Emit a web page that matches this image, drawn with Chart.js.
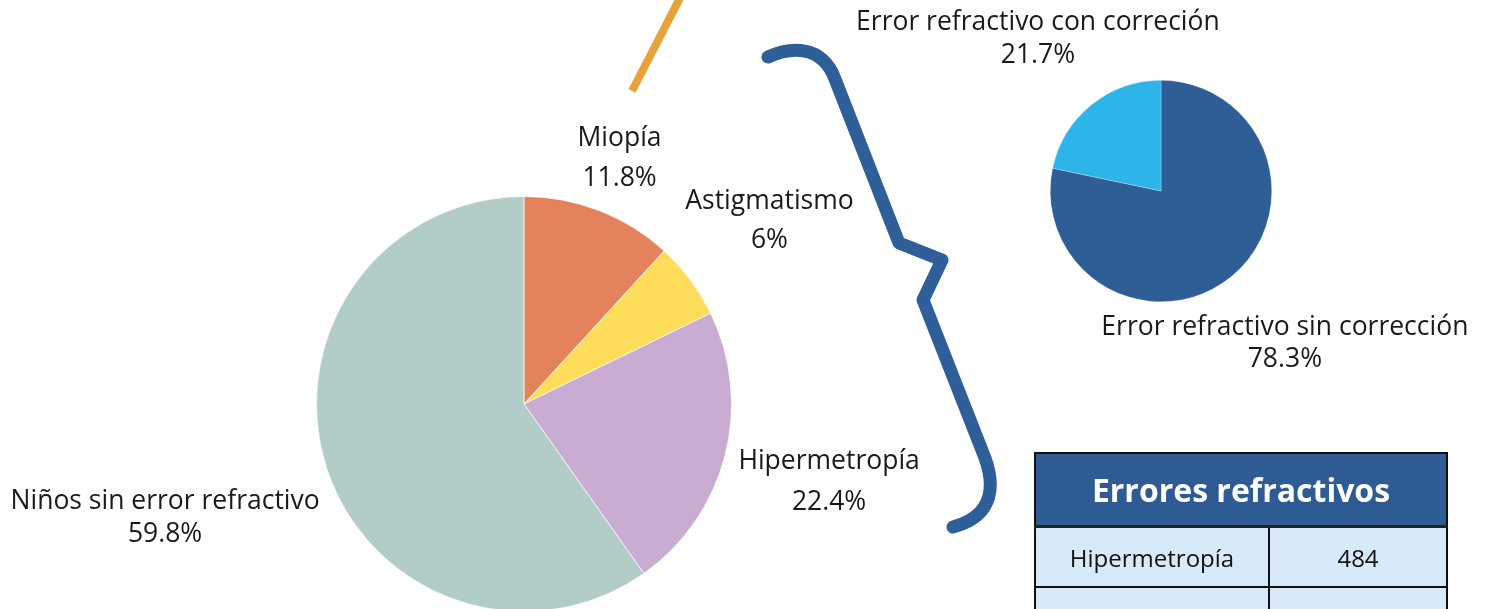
<!DOCTYPE html>
<html>
<head>
<meta charset="utf-8">
<script src="https://cdn.jsdelivr.net/npm/chart.js"></script>
<style>
  html, body { margin: 0; padding: 0; background: #ffffff; overflow: hidden; }
  #lienzo { position: relative; width: 1486px; height: 609px; overflow: hidden; font-family: "Open Sans", sans-serif; }
  canvas, svg { position: absolute; left: 0; top: 0; }
  #tabla { position: absolute; left: 1034px; top: 452px; width: 414px; border-collapse: collapse; }
  #tabla th { background: #2E5B94; color: #ffffff; font-size: 32px; font-weight: bold; height: 71px; border: 2px solid #111111; border-bottom: 3px solid #222222; padding: 0; }
  #tabla td { background: #D6EAFA; color: #111111; font-size: 24px; text-align: center; height: 58px; border: 2px solid #111111; padding: 0; }
</style>
</head>
<body>
<div id="lienzo">
  <svg width="1486" height="609">
    <path d="M 681 -4 L 632 91" stroke="#E8A23A" stroke-width="8" fill="none"/>
    <path d="M 768 57 C 790 47, 822 44, 835 79 L 899 243 L 942 260 L 923 300 L 985 458 C 993 480, 998 515, 953 527"
          stroke="#2F5F98" stroke-width="13" fill="none" stroke-linecap="round" stroke-linejoin="round"/>
  </svg>
  <canvas id="PastelPrincipal" width="1486" height="620"></canvas>
  <canvas id="PastelCorreccion" width="1486" height="620"></canvas>
  <table id="tabla">
    <thead><tr><th colspan="2" id="tituloTabla"></th></tr></thead>
    <tbody id="cuerpoTabla"></tbody>
  </table>
</div>

<script>
// Datos del pastel principal
var categorias = ['Miopía', 'Astigmatismo', 'Hipermetropía', 'Niños sin error refractivo'];
var porcentajes = [11.8, 6, 22.4, 59.8];

// Datos del pastel de corrección
var categoriasCorreccion = ['Error refractivo sin corrección', 'Error refractivo con correción'];
var porcentajesCorreccion = [78.3, 21.7];

// Tabla
var tituloTabla = 'Errores refractivos';
var filasTabla = ['Hipermetropía', ''];
var valoresTabla = [484, ''];

// Etiquetas fuera del pastel, sobre la bisectriz de cada sector
var etiquetasFuera = {
    id: 'etiquetasFuera',
    afterDraw: function(chart, args, opts) {
        var ctx = chart.ctx;
        var meta = chart.getDatasetMeta(0);
        var valores = chart.data.datasets[0].data;
        ctx.save();
        ctx.font = opts.size + 'px "Open Sans", sans-serif';
        ctx.fillStyle = '#1a1a1a';
        ctx.textAlign = 'center';
        ctx.textBaseline = 'middle';
        meta.data.forEach(function(arco, i) {
            var p = arco.getProps(['x', 'y', 'startAngle', 'endAngle', 'outerRadius'], true);
            var medio = (p.startAngle + p.endAngle) / 2;
            var d = p.outerRadius * opts.distancia[i];
            var x = p.x + Math.cos(medio) * d;
            var y = p.y + Math.sin(medio) * d;
            var salto = opts.salto[i];
            ctx.fillText(chart.data.labels[i], x, y - salto / 2);
            ctx.fillText(valores[i] + '%', x, y + salto / 2);
        });
        ctx.restore();
    }
};

var ctx = document.getElementById('PastelPrincipal').getContext('2d');
var pastel = new Chart(ctx, {
    type: 'pie',
    data: {
        labels: categorias,
        datasets: [{
            data: porcentajes,
            backgroundColor: ['#E3825B', '#FEDD5A', '#C8ACD1', '#B2CCC8'],
            borderColor: 'rgba(255,255,255,0.7)',
            borderWidth: 1
        }]
    },
    options: {
        responsive: false,
        animation: false,
        layout: { padding: { left: 316, top: 196, right: 754, bottom: 8 } },
        plugins: {
            legend: { display: false },
            tooltip: { enabled: false },
            etiquetasFuera: { size: 26.5, distancia: [1.271, 1.476, 1.518, 1.815], salto: [40, 39, 41, 33] }
        }
    },
    plugins: [etiquetasFuera]
});

var ctx2 = document.getElementById('PastelCorreccion').getContext('2d');
var pastel2 = new Chart(ctx2, {
    type: 'pie',
    data: {
        labels: categoriasCorreccion,
        datasets: [{
            data: porcentajesCorreccion,
            backgroundColor: ['#2E5E95', '#2DB5EA'],
            borderColor: 'rgba(255,255,255,0.5)',
            borderWidth: 0.5
        }]
    },
    options: {
        responsive: false,
        animation: false,
        layout: { padding: { left: 1050, top: 80, right: 214, bottom: 318 } },
        plugins: {
            legend: { display: false },
            tooltip: { enabled: false },
            etiquetasFuera: { size: 26.5, distancia: [1.775, 1.764], salto: [32, 33] }
        }
    },
    plugins: [etiquetasFuera]
});

document.getElementById('tituloTabla').textContent = tituloTabla;
var cuerpo = document.getElementById('cuerpoTabla');
for (var i = 0; i < filasTabla.length; i++) {
    var tr = document.createElement('tr');
    var a = document.createElement('td');
    var b = document.createElement('td');
    a.style.width = '232px';
    a.textContent = filasTabla[i];
    b.textContent = valoresTabla[i];
    tr.appendChild(a);
    tr.appendChild(b);
    cuerpo.appendChild(tr);
}
</script>
</body>
</html>
